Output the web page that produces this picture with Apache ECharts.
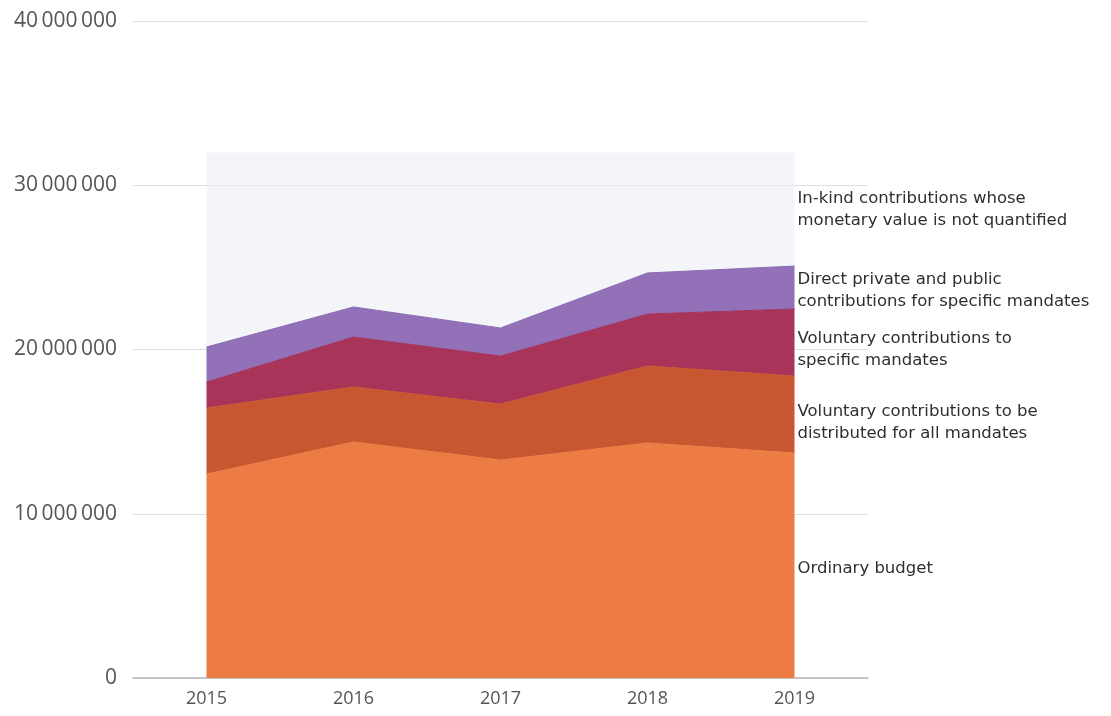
<!DOCTYPE html>
<html>
<head>
<meta charset="utf-8">
<script src="https://cdn.jsdelivr.net/npm/echarts@6/dist/echarts.min.js"></script>
<style>
  html, body { margin: 0; padding: 0; background: #fff; }
  #chart { width: 1111px; height: 716px; }
</style>
</head>
<body>
<div id="chart"></div>
<script>
const years = ['2015', '2016', '2017', '2018', '2019']
const yTicks = [0, 10000000, 20000000, 30000000, 40000000]

// values (per layer, not cumulative)
const ordinaryBudget = [12420000, 14370000, 13270000, 14310000, 13700000]
const voluntaryAll = [4020000, 3350000, 3410000, 4690000, 4690000]
const voluntarySpecific = [1580000, 3040000, 2920000, 3160000, 4080000]
const directContrib = [2130000, 1830000, 1710000, 2500000, 2610000]
const inKind = [11850000, 9410000, 10690000, 7340000, 6920000]

const layerNames = [
  'Ordinary budget',
  'Voluntary contributions to be\ndistributed for all mandates',
  'Voluntary contributions to\nspecific mandates',
  'Direct private and public\ncontributions for specific mandates',
  'In-kind contributions whose\nmonetary value is not quantified'
]
const layerData = [ordinaryBudget, voluntaryAll, voluntarySpecific, directContrib, inKind]
const layerColors = ['#ec7c44', '#c85631', '#a9345a', '#9271b9', 'rgba(236,238,243,0.6)']
const edgeColors = ['#ec7c44', '#c85631', '#a3315a', '#8a68b2', 'rgba(236,238,243,0.6)']
// small nudges so the labels sit like in the original
const labelShift = [3, 8, 7, 3, 0]

const fmt = v => String(v).replace(/\B(?=(\d{3})+(?!\d))/g, '\u2009')

const chart = echarts.init(document.getElementById('chart'))

const option = {
  animation: false,
  grid: { left: 133, right: 243, top: 21, bottom: 38 },
  xAxis: {
    type: 'category',
    data: years,
    boundaryGap: true,
    axisLine: { lineStyle: { color: '#b8b8b8', width: 1.5 } },
    axisTick: { show: false },
    axisLabel: { color: '#555', fontSize: 18, fontFamily: 'Open Sans', margin: 12 }
  },
  yAxis: {
    type: 'value',
    min: yTicks[0],
    max: yTicks[yTicks.length - 1],
    interval: 10000000,
    axisLine: { show: false },
    axisTick: { show: false },
    splitLine: { lineStyle: { color: '#dedede', width: 1.2 } },
    axisLabel: {
      color: '#555', fontSize: 21, fontFamily: 'Open Sans', margin: 16,
      formatter: v => fmt(v)
    }
  },
  series: layerData.map((d, i) => ({
    name: layerNames[i],
    type: 'line',
    stack: 'total',
    data: d,
    symbol: 'none',
    lineStyle: { width: i === 4 ? 0 : 1, color: edgeColors[i] },
    areaStyle: { color: layerColors[i], opacity: 1 },
    z: 2
  }))
}

chart.setOption(option)

// band labels at the right of the last year, centred on each layer
const last = years.length - 1
let base = 0
const texts = []
layerData.forEach((d, i) => {
  const mid = base + d[last] / 2
  base += d[last]
  const p = chart.convertToPixel({ gridIndex: 0 }, [years[last], mid])
  texts.push({
    type: 'text',
    left: p[0] + 3,
    top: p[1] + labelShift[i] - (layerNames[i].includes('\n') ? 22 : 11),
    style: {
      text: layerNames[i],
      fill: '#2e2e2e',
      fontSize: 16.5,
      fontFamily: 'DejaVu Sans',
      lineHeight: 22
    }
  })
})
chart.setOption({ graphic: texts })
</script>
</body>
</html>
